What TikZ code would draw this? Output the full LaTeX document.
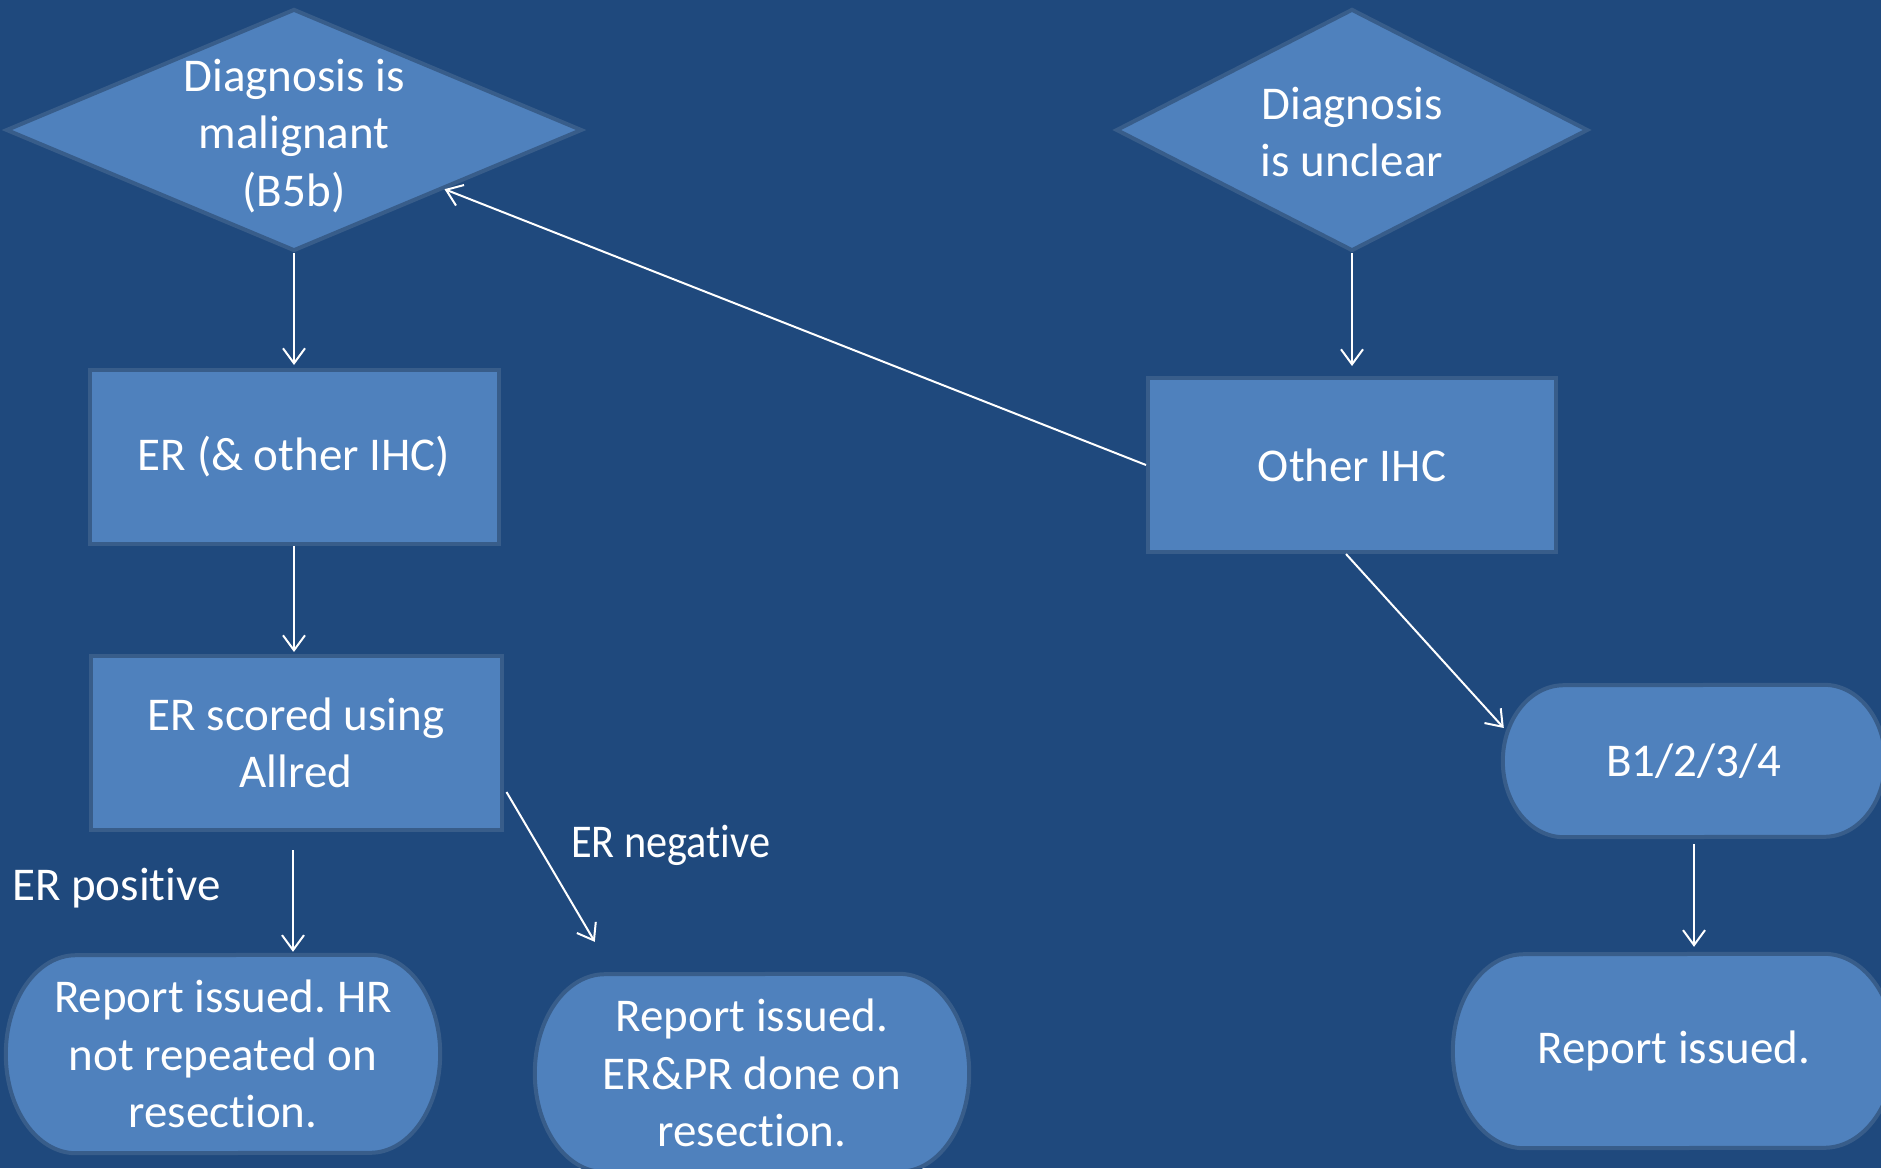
\documentclass[tikz,border=0pt]{standalone}
\usepackage{fontspec}
\setmainfont{Carlito}[Ligatures=NoCommon]
\usepackage{tikz}
\usetikzlibrary{arrows.meta,calc,shapes.geometric}
\definecolor{AzulFondo}{RGB}{31,73,125}
\definecolor{AzulCaja}{RGB}{79,129,189}
\definecolor{AzulBorde}{RGB}{56,93,138}
\pgfdeclarelayer{fondo}
\pgfsetlayers{fondo,main}
\frenchspacing
% terminal shape: node, x radius, y radius
\newcommand{\formaterminal}[3]{%
  \filldraw[fill=AzulCaja,draw=AzulBorde,line width=4pt]
    ($(#1.north east)+(-#2,0)$) arc[start angle=90,end angle=-90,x radius=#2,y radius=#3]
    -- ($(#1.south west)+(#2,0)$) arc[start angle=270,end angle=90,x radius=#2,y radius=#3]
    -- cycle;}

\begin{document}
\begin{tikzpicture}[x=1pt,y=1pt,>={Straight Barb[length=15pt,width=22pt]},
  texto/.style={text=white,font=\fontsize{47}{57.6}\selectfont,align=center},
  caja/.style={texto,rectangle,fill=AzulCaja,draw=AzulBorde,line width=4pt,
    minimum width=409,minimum height=174},
  rombo/.style={texto,diamond,fill=AzulCaja,draw=AzulBorde,line width=4pt,
    inner sep=-6pt,minimum height=242},
  terminal/.style={texto,rectangle,inner sep=0pt,minimum width=434,minimum height=198},
  etiqueta/.style={texto,inner sep=0pt,anchor=west},
  flecha/.style={->,white,line width=2pt}]
  \useasboundingbox (0,0) rectangle (1881,-1168);

  \node[rombo,shape aspect=2.38,minimum width=576] (d1) at (294,-130) {\rule{0pt}{44pt}Diagnosis is\\malignant\\(B5b)};
  \node[rombo,shape aspect=1.95,minimum width=472] (d2) at (1352,-130) {\rule{0pt}{36pt}Diagnosis\\is unclear};
  \node[caja] (er) at (294,-457) {ER (\& other IHC)};
  \node[caja,minimum width=411] (scored) at (296,-743) {ER scored using\\Allred};
  \node[caja,minimum width=408] (oihc) at (1352,-465) {Other IHC};

  \node[terminal,minimum width=382,minimum height=152] (b14) at (1694,-761) {B1/2/3/4};
  \node[terminal] (rep1) at (223,-1054) {Report issued. HR\\not repeated on\\resection.};
  \node[terminal] (rep2) at (752,-1073) {Report issued.\\ER\&PR done on\\resection.};
  \node[terminal,minimum width=442,minimum height=194] (rep3) at (1674,-1051) {Report issued.};

  \node[etiqueta] (pos) at (12,-888) {ER positive};
  \node[etiqueta] (neg) at (571,-845) {\scalebox{0.9}[1]{ER negative}};

  \begin{pgfonlayer}{fondo}
    \fill[AzulFondo] (0,0) rectangle (1881,-1168);
    \formaterminal{b14}{61}{76}
    \formaterminal{rep1}{70}{99}
    \formaterminal{rep2}{70}{99}
    \formaterminal{rep3}{71}{97}
  \end{pgfonlayer}

  \draw[flecha,shorten >=3pt] (d1.south) -- (d1.south |- er.north);
  \draw[flecha,shorten >=2pt] (er.south) -- (er.south |- scored.north);
  \draw[flecha,shorten >=3pt] ([shift={(-3,-18)}]scored.south) -- ([xshift=-3pt]scored.south |- rep1.north);
  \draw[flecha] ([shift={(3,-49)}]scored.east) -- ([shift={(60,32)}]rep2.north west);
  \draw[flecha] (oihc.west) -- (d1);
  \draw[flecha,shorten >=10pt] (d2.south) -- (oihc.north);
  \draw[flecha] ([xshift=-6pt]oihc.south) -- ([shift={(1,33)}]b14.west);
  \draw[flecha,shorten >=7pt] ([yshift=-7pt]b14.south) -- (b14.south |- rep3.north);
\end{tikzpicture}
\end{document}
